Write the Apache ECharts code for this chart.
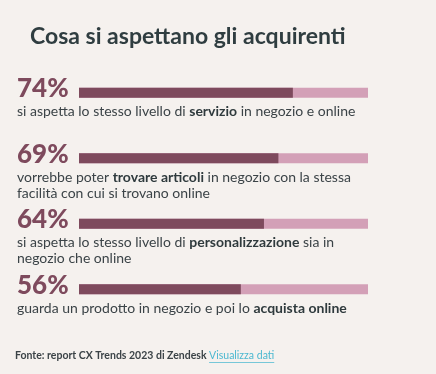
<!DOCTYPE html>
<html>
<head>
<meta charset="utf-8">
<script src="https://cdn.jsdelivr.net/npm/echarts@6/dist/echarts.min.js"></script>
<style>
html,body{margin:0;padding:0;background:#f5f1ee;}
#c{width:436px;height:374px;}
</style>
</head>
<body>
<div id="c"></div>
<script>
const titleText = 'Cosa si aspettano gli acquirenti';
const categories = ['servizio', 'trovare articoli', 'personalizzazione', 'acquista online'];
const values = [74, 69, 64, 56];
const totals = [100, 100, 100, 100];
const descriptions = [
  'si aspetta lo stesso livello di {b|servizio} in negozio e online',
  'vorrebbe poter {b|trovare articoli} in negozio con la stessa\nfacilità con cui si trovano online',
  'si aspetta lo stesso livello di {b|personalizzazione} sia in\nnegozio che online',
  'guarda un prodotto in negozio e poi lo {b|acquista online}'
];
const sourceText = 'Fonte: report CX Trends 2023 di Zendesk ';
const linkText = 'Visualizza dati';

const FONT = 'Lato, "Open Sans", sans-serif';
const srcFont = 'bold 10.5px ' + FONT;
const linkFont = '10.5px ' + FONT;
const ctx = document.createElement('canvas').getContext('2d');
ctx.font = srcFont;
const srcW = ctx.measureText(sourceText).width;
ctx.font = linkFont;
const linkW = ctx.measureText(linkText).width;

const chart = echarts.init(document.getElementById('c'), null, {renderer: 'canvas'});
chart.setOption({
  backgroundColor: '#f5f1ee',
  animation: false,
  title: {
    text: titleText,
    left: 25, top: 20,
    textStyle: {fontFamily: FONT, fontWeight: 'bold', fontSize: 23, color: '#2f3d40'}
  },
  grid: {left: 79, right: 68, top: 60, bottom: 52},
  xAxis: {type: 'value', min: 0, max: 100, show: false},
  yAxis: {type: 'category', data: categories, inverse: true, show: false},
  series: [
    {
      type: 'bar', data: totals, barWidth: 10, barGap: '-100%',
      itemStyle: {color: '#d3a0b7'}, silent: true,
      label: {
        show: true, position: [-62, 16], align: 'left', verticalAlign: 'top',
        formatter: p => descriptions[p.dataIndex],
        fontFamily: FONT, fontSize: 14, lineHeight: 16, color: '#3b4347',
        rich: {b: {fontFamily: FONT, fontSize: 14, lineHeight: 16, fontWeight: 'bold', color: '#2f3a3d'}}
      }
    },
    {
      type: 'bar', data: values, barWidth: 10,
      itemStyle: {color: '#7e4a5d'}, silent: true,
      label: {
        show: true, position: [-62, 1], align: 'left', verticalAlign: 'middle',
        formatter: p => p.value + '%',
        fontFamily: FONT, fontWeight: 900, fontSize: 26, color: '#7e4a5d'
      }
    }
  ],
  graphic: [
    {type: 'text', left: 15, top: 350, style: {text: sourceText, font: srcFont, fill: '#3b4347'}},
    {type: 'text', left: 15 + srcW, top: 350, style: {text: linkText, font: linkFont, fill: '#4bb8d0'}},
    {type: 'rect', left: 15 + srcW, top: 362, shape: {width: linkW, height: 0.8}, style: {fill: '#4bb8d0'}}
  ]
});
</script>
</body>
</html>
